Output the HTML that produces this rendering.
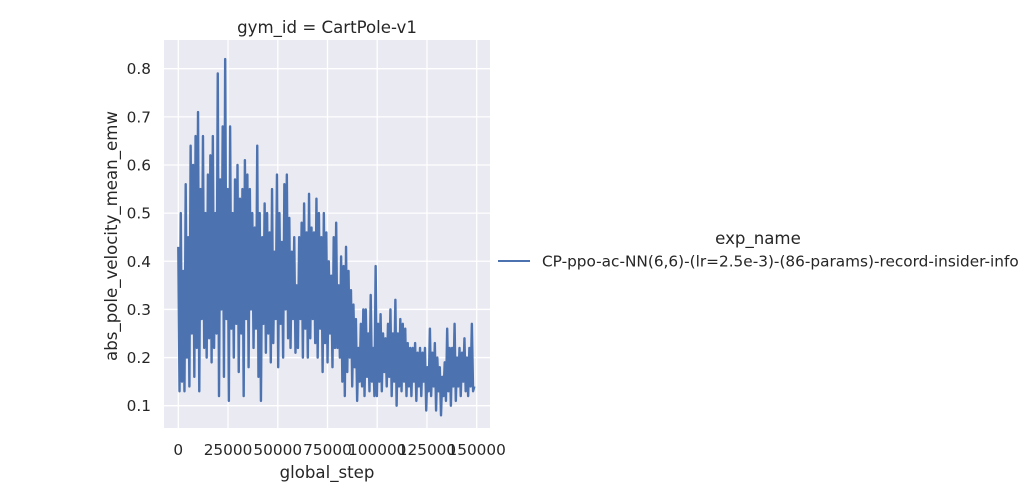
<!DOCTYPE html>
<html><head><meta charset="utf-8"><style>
body{margin:0;background:#fff;}
svg{display:block;font-family:"DejaVu Sans","Liberation Sans",sans-serif;}
</style></head><body>
<svg id="chart" width="1031" height="500">
<rect x="164" y="40" width="326" height="388" fill="#eaeaf2"/>
<g id="grid"></g>
<g id="ticks" font-size="15.3" fill="#262626"></g>
<text x="327" y="33" text-anchor="middle" font-size="16.6" fill="#262626">gym_id = CartPole-v1</text>
<text x="327" y="478" text-anchor="middle" font-size="16.6" fill="#262626">global_step</text>
<text transform="translate(117,236) rotate(-90)" text-anchor="middle" font-size="16.6" fill="#262626">abs_pole_velocity_mean_emw</text>
<path id="series" fill="none" stroke="#4c72b0" stroke-width="2.4" stroke-linejoin="round"/>
<g>
<text x="758" y="244" text-anchor="middle" font-size="16.6" fill="#262626">exp_name</text>
<line x1="498" y1="261" x2="530" y2="261" stroke="#4c72b0" stroke-width="2"/>
<text x="542" y="266.5" font-size="15.3" fill="#262626">CP-ppo-ac-NN(6,6)-(lr=2.5e-3)-(86-params)-record-insider-info</text>
</g>
</svg>
<script>
const xTicks=[0,25000,50000,75000,100000,125000,150000];
const yTicks=[0.1,0.2,0.3,0.4,0.5,0.6,0.7,0.8];
const stepSize=620;
const values=[
0.43,0.13,0.50,0.15,0.38,0.13,0.56,0.20,0.45,0.14,0.64,0.25,0.60,0.16,0.66,0.22,
0.71,0.13,0.55,0.28,0.66,0.22,0.50,0.20,0.58,0.24,0.62,0.19,0.66,0.22,0.50,0.25,
0.79,0.12,0.57,0.30,0.68,0.16,0.82,0.28,0.55,0.11,0.68,0.26,0.50,0.20,0.57,0.27,
0.60,0.17,0.53,0.25,0.55,0.12,0.61,0.28,0.58,0.18,0.55,0.30,0.50,0.22,0.47,0.26,
0.64,0.16,0.50,0.11,0.45,0.27,0.52,0.21,0.50,0.25,0.46,0.19,0.55,0.23,0.42,0.28,
0.58,0.18,0.50,0.27,0.44,0.20,0.56,0.30,0.58,0.24,0.49,0.22,0.42,0.28,0.45,0.21,
0.35,0.22,0.45,0.28,0.48,0.20,0.52,0.26,0.46,0.20,0.54,0.24,0.47,0.28,0.46,0.23,
0.53,0.20,0.50,0.26,0.45,0.17,0.50,0.23,0.46,0.19,0.40,0.25,0.37,0.18,0.45,0.22,
0.48,0.22,0.35,0.20,0.41,0.15,0.39,0.12,0.43,0.17,0.38,0.20,0.34,0.14,0.31,0.18,
0.28,0.11,0.22,0.15,0.27,0.14,0.30,0.12,0.30,0.16,0.25,0.13,0.33,0.15,0.22,0.12,
0.39,0.12,0.27,0.15,0.29,0.13,0.25,0.17,0.24,0.14,0.27,0.16,0.30,0.12,0.25,0.15,
0.32,0.10,0.25,0.14,0.28,0.13,0.27,0.15,0.26,0.12,0.23,0.14,0.22,0.12,0.22,0.15,
0.23,0.11,0.21,0.14,0.22,0.12,0.21,0.15,0.22,0.09,0.18,0.13,0.26,0.12,0.21,0.14,
0.23,0.09,0.20,0.13,0.18,0.08,0.16,0.12,0.19,0.11,0.26,0.13,0.22,0.10,0.22,0.14,
0.27,0.11,0.20,0.14,0.22,0.12,0.21,0.15,0.24,0.13,0.20,0.12,0.22,0.14,0.27,0.13,
0.14];
const xs=v=>178.3+(v/150000)*298.4;
const ys=v=>68.7+(0.8-v)/0.7*337;
const NS="http://www.w3.org/2000/svg";
const grid=document.getElementById('grid'),ticks=document.getElementById('ticks');
xTicks.forEach(t=>{
 const l=document.createElementNS(NS,'line');
 l.setAttribute('x1',xs(t));l.setAttribute('x2',xs(t));l.setAttribute('y1',40);l.setAttribute('y2',428);
 l.setAttribute('stroke','#fff');l.setAttribute('stroke-width','1.3');
 
 
 grid.appendChild(l);
 const tx=document.createElementNS(NS,'text');
 tx.setAttribute('x',xs(t));tx.setAttribute('y',455);tx.setAttribute('text-anchor','middle');
 tx.textContent=t;
 
 
 ticks.appendChild(tx);
});
yTicks.forEach(t=>{
 const l=document.createElementNS(NS,'line');
 l.setAttribute('x1',164);l.setAttribute('x2',490);l.setAttribute('y1',ys(t));l.setAttribute('y2',ys(t));
 l.setAttribute('stroke','#fff');l.setAttribute('stroke-width','1.3');
 
 
 grid.appendChild(l);
 const tx=document.createElementNS(NS,'text');
 tx.setAttribute('x',151);tx.setAttribute('y',ys(t)+5.5);tx.setAttribute('text-anchor','end');
 tx.textContent=t.toFixed(1);
 
 
 ticks.appendChild(tx);
});
let d='';
values.forEach((v,i)=>{d+=(i?'L':'M')+xs(i*stepSize).toFixed(2)+','+ys(v).toFixed(2);});
document.getElementById('series').setAttribute('d',d);
</script>
</body></html>
